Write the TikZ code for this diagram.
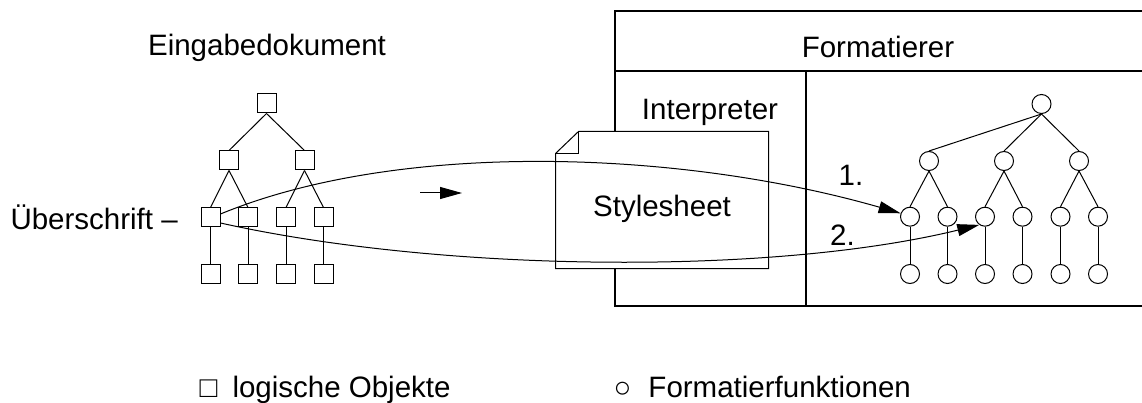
\documentclass[tikz,border=0pt]{standalone}
\usepackage{fontspec}
\setmainfont{Liberation Sans}
\usetikzlibrary{arrows.meta}
\begin{document}
\begin{tikzpicture}[x=1pt,y=-1pt,line width=1pt,
  lbl/.style={font=\fontsize{29.5pt}{35pt}\selectfont,inner sep=0pt},
  obj/.style={draw,rectangle,minimum size=19pt,inner sep=0pt},
  fun/.style={draw,circle,minimum size=19pt,inner sep=0pt},
  flow/.style={-{Triangle[length=22pt,width=12pt]}},
  frame/.style={line width=1.2pt}]
\useasboundingbox (0,0) rectangle (1142,403);

% Formatierer frame with Interpreter compartment
\draw[frame] (1142,11) -- (615,11) -- (615,306) -- (1142,306);
\draw[frame] (615,71) -- (1142,71);
\draw[frame] (806,71) -- (806,306);
\node[lbl,anchor=base] (fmt) at (878,58) {Formatierer};
\node[lbl,anchor=base] (intp) at (710,120) {Interpreter};

% input document: tree of logical objects
\node[lbl,anchor=base] (ein) at (267,56) {Eingabedokument};
\node[obj] (s0) at (266.5,103.5) {};
\node[obj] (s1) at (229,160.5) {};
\node[obj] (s2) at (304.5,160.5) {};
\foreach \n/\x in {11/210.5,12/248,21/286,22/323.5}{
  \node[obj] (s\n) at (\x,217.5) {};
  \node[obj] (t\n) at (\x,273.5) {};
  \draw (s\n.south) -- (t\n.north);
}
\draw (s0.south) -- (s1.north);
\draw (s0.south) -- (s2.north);
\draw (s1.south) -- (s11.north);
\draw (s1.south) -- (s12.north);
\draw (s2.south) -- (s21.north);
\draw (s2.south) -- (s22.north);
\node[lbl,anchor=base west] (ueb) at (10,230) {Überschrift –};

% formatting functions tree
\node[fun] (c0) at (1041.5,104) {};
\node[fun] (c1) at (929,161) {};
\node[fun] (c2) at (1004,161) {};
\node[fun] (c3) at (1079,161) {};
\foreach \n/\x in {11/910,12/947.5,21/985,22/1022.5,31/1060.5,32/1098}{
  \node[fun] (c\n) at (\x,216.7) {};
  \node[fun] (d\n) at (\x,274) {};
  \draw (c\n.south) -- (d\n.north);
}
\foreach \p in {1,2,3}{
  \draw (c0.south) -- (c\p.north);
  \draw (c\p.south) -- (c\p1.north);
  \draw (c\p.south) -- (c\p2.north);
}

% stylesheet sheet with folded corner
\node[minimum width=212pt,minimum height=136pt,inner sep=0pt] (ss) at (662,200) {};
\filldraw[fill=white] ([yshift=-22pt]ss.north west) -- ([xshift=23pt]ss.north west)
  -- (ss.north east) -- (ss.south east) -- (ss.south west) -- cycle;
\draw ([xshift=23pt]ss.north west) -- ([xshift=23pt,yshift=-22pt]ss.north west)
  -- ([yshift=-22pt]ss.north west);
\node[lbl,anchor=base] (sst) at (662,217) {Stylesheet};

% mapping of the heading onto formatting functions
\draw[flow] ([yshift=3.5pt]s11.east) .. controls (400,140) and (680,150) .. (c11.160);
\draw[flow] ([yshift=-5.5pt]s11.east) .. controls (440,272) and (770,276) .. (c21.235);
\node[lbl] (n1) at (851,175) {1.};
\node[lbl] (n2) at (842.5,235) {2.};

% direction marker
\coordinate (fl) at (420,193);
\coordinate (fr) at (462,193);
\draw[flow] (fl) -- (fr);

% legend
\node[lbl,anchor=base west] (lg1) at (199,397) {□\hspace{7pt} logische Objekte};
\node[lbl,anchor=base west] (lg2) at (613,397) {○\hspace{9pt} Formatierfunktionen};
\end{tikzpicture}
\end{document}
